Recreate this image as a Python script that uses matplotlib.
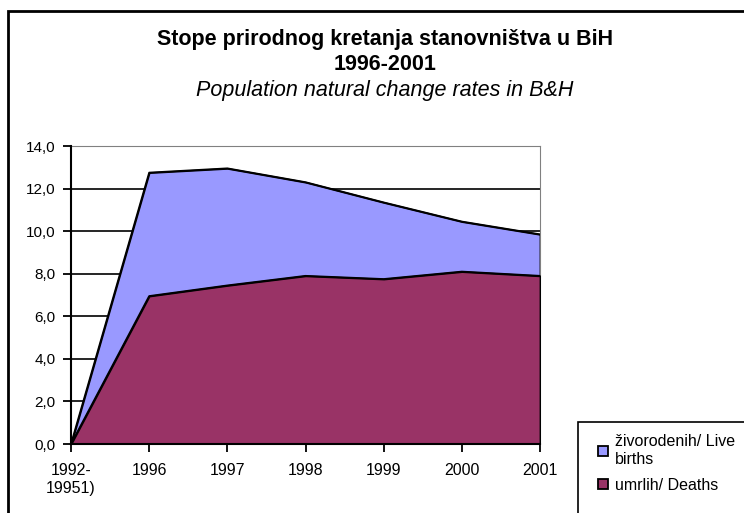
import matplotlib.pyplot as plt
from matplotlib.patches import Rectangle

plt.rcParams['font.family'] = ['Liberation Sans', 'DejaVu Sans']

categories = ['1992-\n19951)', '1996', '1997', '1998', '1999', '2000', '2001']
births = [0.0, 12.75, 12.95, 12.3, 11.35, 10.45, 9.85]
deaths = [0.0, 6.95, 7.45, 7.9, 7.75, 8.1, 7.9]
yticks = [0, 2, 4, 6, 8, 10, 12, 14]

fig = plt.figure(figsize=(7.44, 5.13), dpi=100)
ax = fig.add_axes([71 / 744, 1 - 444 / 513, 469 / 744, 298 / 513])

x = list(range(len(categories)))
ax.fill_between(x, births, color='#9999FF', label='živorodenih/ Live\nbirths', zorder=2)
ax.plot(x, births, color='black', lw=1.3, zorder=3)
ax.fill_between(x, deaths, color='#993366', label='umrlih/ Deaths', zorder=4)
ax.plot(x, deaths, color='black', lw=1.3, zorder=5)

ax.set_xlim(0, len(categories) - 1)
ax.set_ylim(0, 14)
ax.set_yticks(yticks)
ax.set_yticklabels([f'{v:.1f}'.replace('.', ',') for v in yticks], fontsize=11)
ax.set_xticks(x)
ax.set_xticklabels(categories, fontsize=11.5)
for v in yticks[1:-1]:
    ax.axhline(v, color='black', lw=1.2, zorder=1)

ax.spines['left'].set_color('black')
ax.spines['bottom'].set_color('black')
ax.spines['left'].set_linewidth(1.5)
ax.spines['bottom'].set_linewidth(1.5)
ax.spines['top'].set_color('#808080')
ax.spines['right'].set_color('#808080')
ax.spines['left'].set_zorder(6)
ax.spines['bottom'].set_zorder(6)
ax.tick_params(axis='both', direction='out', length=6, width=1.3, color='black')
ax.tick_params(axis='x', pad=8)
ax.tick_params(axis='y', pad=5)

# title is centred on the full chart area, which runs past the right edge
cx = 385 / 744
fig.text(cx, 1 - 40 / 513, 'Stope prirodnog kretanja stanovništva u BiH',
         ha='center', va='center', fontsize=15.5, fontweight='bold')
fig.text(cx, 1 - 65 / 513, '1996-2001',
         ha='center', va='center', fontsize=15.5, fontweight='bold')
fig.text(cx, 1 - 91 / 513, 'Population natural change rates in B&H',
         ha='center', va='center', fontsize=15.5, style='italic')

# outer chart border and legend box (both run off the image edge)
fig.patches.append(Rectangle((8 / 744, -0.1), 1.1, 1 - 11 / 513 + 0.1,
                             transform=fig.transFigure, fill=False,
                             edgecolor='black', lw=2))
fig.patches.append(Rectangle((578 / 744, -0.1), 1.1, 1 - 422 / 513 + 0.1,
                             transform=fig.transFigure, fill=False,
                             edgecolor='black', lw=1.2))

handles, labels = ax.get_legend_handles_labels()
for h in handles:
    h.set_edgecolor('black')
    h.set_linewidth(1.3)
fig.legend(handles, labels, loc='upper left', bbox_to_anchor=(584 / 744, 1 - 420 / 513),
           frameon=False, fontsize=11.5, handlelength=0.6, handleheight=0.6,
           handletextpad=0.45, labelspacing=0.7)

fig.savefig('out.png', dpi=100)
